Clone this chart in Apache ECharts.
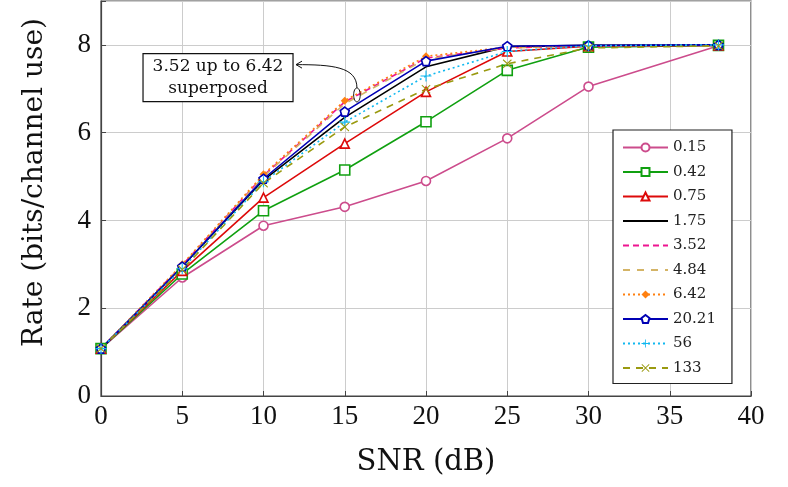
<!DOCTYPE html>
<html>
<head>
<meta charset="utf-8">
<script src="https://cdn.jsdelivr.net/npm/echarts@6/dist/echarts.min.js"></script>
<style>
html,body{margin:0;padding:0;background:#fff;}
#main{width:788px;height:487px;}
</style>
</head>
<body>
<div id="main"></div>
<script>
// SNR (dB) on the x axis
var snr = [0, 5, 10, 15, 20, 25, 30, 38];
// rate for each parameter value
var r015  = [1.08, 2.70, 3.88, 4.31, 4.90, 5.87, 7.05, 7.98];
var r042  = [1.08, 2.78, 4.22, 5.15, 6.25, 7.42, 7.95, 7.99];
var r075  = [1.08, 2.85, 4.52, 5.75, 6.93, 7.85, 7.97, 7.99];
var r175  = [1.08, 2.95, 4.92, 6.35, 7.50, 7.96, 7.99, 8.00];
var r352  = [1.08, 2.98, 5.02, 6.70, 7.70, 7.93, 7.98, 8.00];
var r484  = [1.08, 2.97, 5.00, 6.66, 7.68, 7.93, 7.98, 8.00];
var r642  = [1.08, 3.00, 5.05, 6.73, 7.74, 7.95, 7.98, 8.00];
var r2021 = [1.08, 2.95, 4.95, 6.48, 7.63, 7.97, 7.99, 8.00];
var r56   = [1.08, 2.90, 4.88, 6.24, 7.29, 7.85, 7.98, 8.00];
var r133  = [1.08, 2.88, 4.85, 6.13, 6.99, 7.57, 7.93, 7.98];
var names = ['0.15', '0.42', '0.75', '1.75', '3.52', '4.84', '6.42', '20.21', '56', '133'];

function pairs(ys) {
    return snr.map(function (x, i) { return [x, ys[i]]; });
}

var pentagon = 'path://M0,-10L9.5,-3.1L5.9,8.1L-5.9,8.1L-9.5,-3.1Z';
var plus = 'path://M-1,-10H1V-1H10V1H1V10H-1V1H-10V-1H-1Z';
var cross = 'path://M-8.5,-7.1L0,-1.4L8.5,-7.1L9.9,-5.7L1.4,0L9.9,5.7L8.5,7.1L0,1.4L-8.5,7.1L-9.9,5.7L-1.4,0L-9.9,-5.7Z';

function mk(name, ys, color, type, symbol, size, hollow) {
    return {
        name: name,
        type: 'line',
        data: pairs(ys),
        symbol: symbol || 'none',
        symbolSize: size || 8,
        showSymbol: !!symbol,
        lineStyle: {color: color, width: 1.6, type: type || 'solid'},
        itemStyle: hollow ? {color: '#fff', borderColor: color, borderWidth: 1.6}
                          : {color: color, borderColor: color, borderWidth: 0},
        emphasis: {disabled: true},
        animation: false
    };
}

// legend entries; the three plain lines get no marker in the key
var noMark = {color: 'rgba(0,0,0,0)', borderColor: 'rgba(0,0,0,0)', borderWidth: 0};
var legendData = names.map(function (n) {
    if (n === '1.75' || n === '3.52' || n === '4.84') return {name: n, itemStyle: noMark};
    return {name: n};
});

var chart = echarts.init(document.getElementById('main'));
var serif = 'DejaVu Serif';

var option = {
    backgroundColor: '#fff',
    animation: false,
    grid: {left: 101, right: 37, top: 1, bottom: 91, show: true, borderColor: '#444', borderWidth: 1.2},
    xAxis: {
        type: 'value', min: 0, max: 40, interval: 5,
        name: 'SNR (dB)', nameLocation: 'middle', nameGap: 52,
        nameTextStyle: {fontFamily: serif, fontSize: 29, color: '#111'},
        axisLine: {show: true, lineStyle: {color: '#444', width: 1.2}},
        axisTick: {inside: true, length: 5, lineStyle: {color: '#444'}},
        axisLabel: {fontFamily: 'Liberation Serif', fontSize: 27, color: '#111', margin: 7},
        splitLine: {lineStyle: {color: '#ccc'}}
    },
    yAxis: {
        type: 'value', min: 0, max: 9, interval: 2,
        name: 'Rate (bits/channel use)', nameLocation: 'middle', nameGap: 52,
        nameTextStyle: {fontFamily: serif, fontSize: 28, color: '#111', padding: [0, 0, 0, 32]},
        axisLine: {show: true, lineStyle: {color: '#444', width: 1.2}},
        axisTick: {inside: true, length: 5, lineStyle: {color: '#444'}},
        axisLabel: {fontFamily: 'Liberation Serif', fontSize: 27, color: '#111', margin: 10,
            formatter: function (v) { return v > 8 ? '' : String(v); }},
        splitLine: {lineStyle: {color: '#ccc'}}
    },
    legend: {
        orient: 'vertical', left: 613, top: 130,
        padding: [10, 16, 8, 9],
        backgroundColor: '#fff', borderColor: '#222', borderWidth: 1.2, borderRadius: 0,
        itemWidth: 45, itemHeight: 10, itemGap: 9.5,
        textStyle: {fontFamily: serif, fontSize: 15, color: '#222'},
        data: legendData
    },
    series: [
        mk(names[0], r015, '#cc4c8c', 'solid', 'circle', 9, true),
        mk(names[1], r042, '#10a010', 'solid', 'rect', 10, true),
        mk(names[2], r075, '#dd0a0a', 'solid', 'triangle', 9, true),
        mk(names[3], r175, '#000000', 'solid'),
        mk(names[4], r352, '#ee1490', [6, 4]),
        mk(names[5], r484, '#d4b466', [7, 7]),
        mk(names[6], r642, '#ff8010', [2, 3], 'diamond', 8, false),
        mk(names[7], r2021, '#0000b4', 'solid', pentagon, 9, true),
        mk(names[8], r56, '#10b8f0', [2, 3], plus, 11, false),
        mk(names[9], r133, '#9a9a10', [7, 6], cross, 9, false)
    ]
};
chart.setOption(option);

// annotation: box + curved arrow towards the superposed curves
var ell = chart.convertToPixel({gridIndex: 0}, [15.75, 6.86]);
var tip = chart.convertToPixel({gridIndex: 0}, [11.94, 7.55]);
var boxW = 150, boxH = 48;
var boxX = tip[0] - 2 - boxW, boxY = tip[1] - 11;
chart.setOption({
    graphic: [
        {type: 'rect', shape: {x: boxX, y: boxY, width: boxW, height: boxH},
         style: {fill: '#fff', stroke: '#111', lineWidth: 1.2}, z: 100},
        {type: 'text', x: boxX + boxW / 2, y: boxY + 13,
         style: {text: '3.52 up to 6.42', font: '17px "DejaVu Serif"', fill: '#111', align: 'center', verticalAlign: 'middle'}, z: 101},
        {type: 'text', x: boxX + boxW / 2, y: boxY + 35,
         style: {text: 'superposed', font: '17px "DejaVu Serif"', fill: '#111', align: 'center', verticalAlign: 'middle'}, z: 101},
        {type: 'ellipse', shape: {cx: ell[0], cy: ell[1], rx: 3.3, ry: 7},
         style: {fill: 'none', stroke: '#111', lineWidth: 1}, z: 100},
        {type: 'bezierCurve',
         shape: {x1: ell[0], y1: ell[1] - 7, cpx1: ell[0], cpy1: tip[1] + 2, cpx2: ell[0] - 25, cpy2: tip[1], x2: tip[0] + 1, y2: tip[1]},
         style: {fill: 'none', stroke: '#111', lineWidth: 1}, z: 100},
        {type: 'polyline',
         shape: {points: [[tip[0] + 7, tip[1] - 3.5], [tip[0] + 1, tip[1]], [tip[0] + 7, tip[1] + 3.5]]},
         style: {fill: 'none', stroke: '#111', lineWidth: 1}, z: 100}
    ]
});
</script>
</body>
</html>
